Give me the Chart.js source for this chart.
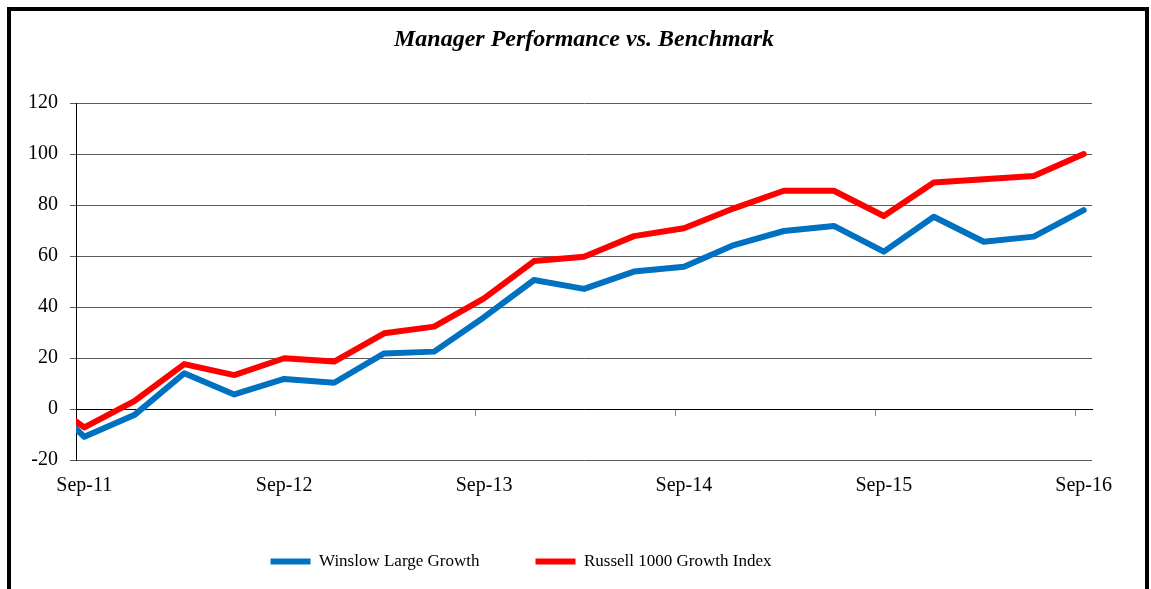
<!DOCTYPE html>
<html>
<head>
<meta charset="utf-8">
<script src="https://cdn.jsdelivr.net/npm/chart.js@4/dist/chart.umd.min.js"></script>
<style>
html, body { margin: 0; padding: 0; background: #fff; }
#wrap { position: relative; width: 1151px; height: 589px; overflow: hidden; background: #fff; }
#frame { position: absolute; left: 7px; top: 7px; width: 1134px; height: 620px;
  border-left: 4px solid #000; border-top: 4px solid #000; border-right: 4px solid #000; }
#c { position: absolute; left: 0; top: 0; }
</style>
</head>
<body>
<div id="wrap">
  <div id="frame"></div>
  <canvas id="c" width="1151" height="589"></canvas>
</div>
<script>
// Quarter-end observations (first one lies just before the axis start and is clipped)
const categories = ['Jun-11','Sep-11','Dec-11','Mar-12','Jun-12','Sep-12','Dec-12','Mar-13','Jun-13',
  'Sep-13','Dec-13','Mar-14','Jun-14','Sep-14','Dec-14','Mar-15','Jun-15','Sep-15','Dec-15',
  'Mar-16','Jun-16','Sep-16'];
const winslowValues = [8.0, -10.9, -2.4, 14.0, 5.7, 11.8, 10.3, 21.8, 22.5, 36.0, 50.6, 47.1,
  53.9, 55.8, 64.3, 69.8, 71.8, 61.7, 75.4, 65.6, 67.6, 78.0];
const russellValues = [6.7, -7.2, 3.1, 17.6, 13.3, 19.9, 18.6, 29.7, 32.3, 43.4, 58.0, 59.7,
  67.8, 70.9, 78.7, 85.6, 85.6, 75.7, 88.8, 90.1, 91.4, 100.0];
const tickLabels = ['Sep-11','Sep-12','Sep-13','Sep-14','Sep-15','Sep-16'];
const seriesNames = ['Winslow Large Growth', 'Russell 1000 Growth Index'];
const titleText = 'Manager Performance vs. Benchmark';

const MONTHS = ['Jan','Feb','Mar','Apr','May','Jun','Jul','Aug','Sep','Oct','Nov','Dec'];
// month slots counted from Sep-11; a value sits in the middle of its month slot
function monthIndex(label) {
  const [m, y] = label.split('-');
  return (2000 + parseInt(y, 10) - 2011) * 12 + MONTHS.indexOf(m) - 8;
}
const axisMin = monthIndex(tickLabels[0]);
const axisMax = monthIndex(tickLabels[tickLabels.length - 1]) + 1;
const toPoints = vals => categories.map((c, i) => ({ x: monthIndex(c) + 0.5, y: vals[i] }));

const FONT = 'Liberation Serif, Times New Roman, serif';

new Chart(document.getElementById('c'), {
  type: 'line',
  data: {
    datasets: [
      { label: seriesNames[0], data: toPoints(winslowValues), borderColor: '#0070C0', backgroundColor: '#0070C0',
        borderWidth: 6, pointRadius: 0, pointHoverRadius: 0, tension: 0, fill: false,
        borderCapStyle: 'round', borderJoinStyle: 'round', clip: 0, order: 1, xAxisID: 'x', yAxisID: 'y' },
      { label: seriesNames[1], data: toPoints(russellValues), borderColor: '#FF0000', backgroundColor: '#FF0000',
        borderWidth: 6, pointRadius: 0, pointHoverRadius: 0, tension: 0, fill: false,
        borderCapStyle: 'round', borderJoinStyle: 'round', clip: 0, order: 0, xAxisID: 'x', yAxisID: 'y' }
    ]
  },
  options: {
    responsive: false,
    animation: false,
    devicePixelRatio: 1,
    layout: { padding: { left: -50, right: 59, top: 0, bottom: 9 } },
    plugins: {
      title: {
        display: true, text: titleText, color: '#000', fullSize: false,
        font: { family: FONT, size: 24, style: 'italic', weight: 'bold' },
        padding: { top: 25.6, bottom: 48.6 }
      },
      legend: {
        display: true, position: 'bottom', align: 'center',
        labels: {
          usePointStyle: true, pointStyle: 'line', pointStyleWidth: 40,
          color: '#000', font: { family: FONT, size: 17 }, padding: 56,
          sort: (a, b) => a.datasetIndex - b.datasetIndex
        }
      },
      tooltip: { enabled: false }
    },
    scales: {
      x: {
        type: 'linear', position: 'bottom', min: axisMin, max: axisMax,
        afterBuildTicks: s => { s.ticks = tickLabels.map(l => ({ value: monthIndex(l) + 0.5 })); },
        afterFit: s => { s.height = 37; },
        grid: { display: false, drawTicks: false },
        border: { display: false },
        ticks: { autoSkip: true, maxRotation: 0, padding: 13.6, color: '#000',
          font: { family: FONT, size: 20 }, callback: (v, i) => tickLabels[i] }
      },
      x2: {
        type: 'linear', position: { y: 0 }, min: axisMin, max: axisMax,
        afterBuildTicks: s => { s.ticks = tickLabels.map(l => ({ value: monthIndex(l) })); },
        grid: { display: true, drawOnChartArea: false, drawTicks: true, tickLength: 6, color: '#8c8c8c', lineWidth: 1 },
        border: { display: true, color: '#000', width: 1 },
        ticks: { display: false }
      },
      y: {
        type: 'linear', position: 'left', min: -20, max: 120,
        afterFit: s => { s.width = 126; },
        grid: { color: '#595959', lineWidth: 1, drawTicks: true, tickLength: 6 },
        border: { display: true, color: '#000', width: 1 },
        ticks: { stepSize: 20, padding: 12, color: '#000', font: { family: FONT, size: 20 } }
      }
    }
  }
});
</script>
</body>
</html>
